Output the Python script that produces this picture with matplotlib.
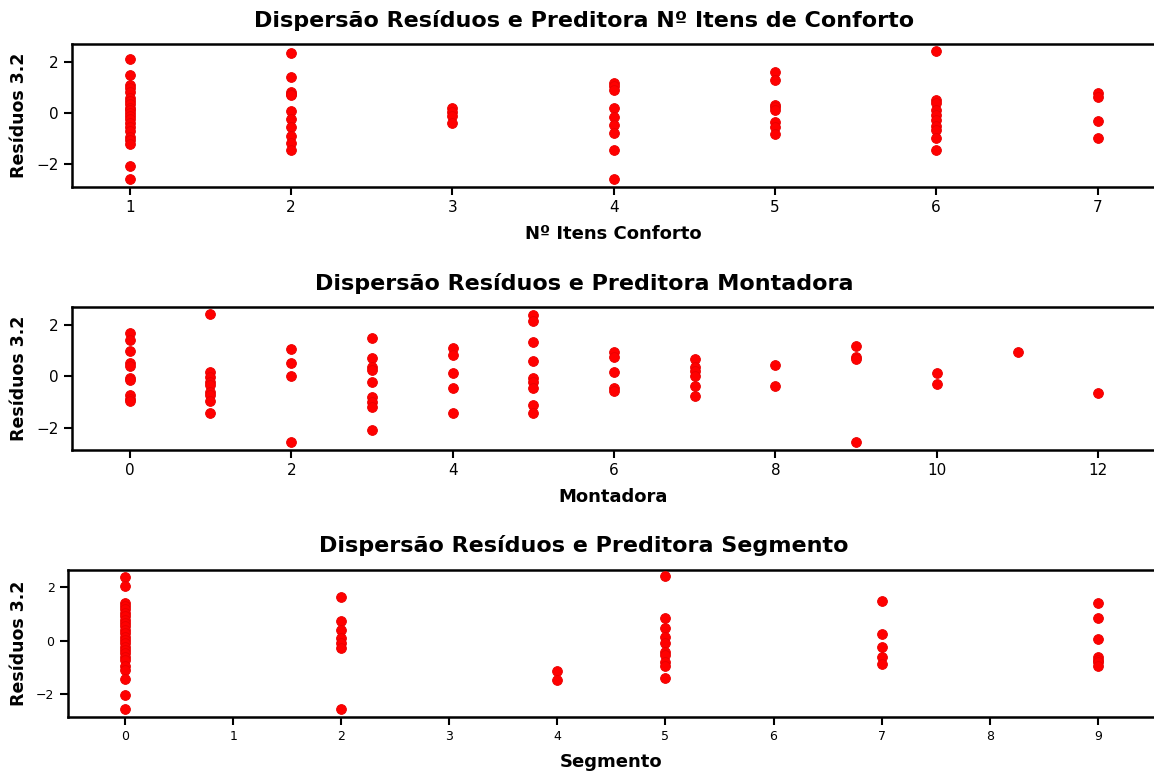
#!/usr/bin/env python3
"""Dispersao dos residuos contra as preditoras (3 paineis)."""
import matplotlib
matplotlib.use("Agg")
import matplotlib.pyplot as plt

# residuos lidos por nivel de cada preditora
conforto_niveis = [1, 2, 3, 4, 5, 6, 7]
conforto_res = [
    [2.10, 1.48, 1.09, 0.96, 0.83, 0.60, 0.45, 0.35, 0.20, 0.10, 0.0, -0.10,
     -0.25, -0.40, -0.55, -0.70, -0.95, -1.05, -1.20, -2.06, -2.55],
    [2.32, 1.38, 0.83, 0.75, 0.70, 0.08, -0.23, -0.56, -0.88, -1.18, -1.44],
    [0.18, 0.05, -0.12, -0.38],
    [1.16, 1.03, 0.90, 0.18, -0.14, -0.47, -0.79, -1.42, -2.55],
    [1.61, 1.30, 0.31, 0.25, 0.12, -0.34, -0.56, -0.80],
    [2.42, 0.51, 0.38, 0.12, -0.08, -0.27, -0.51, -0.66, -0.96, -1.44],
    [0.77, 0.64, -0.31, -0.96],
]

montadora_niveis = [0, 1, 2, 3, 4, 5, 6, 7, 8, 9, 10, 11, 12]
montadora_res = [
    [1.67, 1.41, 0.98, 0.50, 0.41, -0.07, -0.16, -0.75, -0.88, -0.98],
    [2.43, 0.14, -0.03, -0.22, -0.35, -0.61, -0.75, -0.98, -1.42],
    [1.06, 0.50, 0.0, -2.55],
    [1.48, 0.69, 0.37, 0.24, -0.25, -0.81, -1.01, -1.20, -2.09],
    [1.08, 0.82, 0.10, -0.46, -1.42],
    [2.39, 2.13, 1.31, 0.59, -0.09, -0.25, -0.48, -1.14, -1.42],
    [0.93, 0.76, 0.17, -0.46, -0.59],
    [0.67, 0.37, 0.20, 0.01, -0.38, -0.78],
    [0.43, -0.38],
    [1.15, 0.76, 0.67, -2.55],
    [0.10, -0.29],
    [0.92],
    [-0.64],
]

segmento_niveis = [0, 2, 4, 5, 7, 9]
segmento_res = [
    [2.38, 2.04, 1.43, 1.30, 1.18, 1.05, 0.92, 0.80, 0.67, 0.54, 0.42, 0.29,
     0.16, 0.04, -0.09, -0.22, -0.34, -0.47, -0.59, -0.72, -0.95, -1.10,
     -1.42, -2.03, -2.56],
    [1.65, 0.73, 0.39, 0.10, -0.09, -0.28, -2.56],
    [-1.14, -1.46],
    [2.42, 0.86, 0.48, 0.16, -0.09, -0.41, -0.53, -0.78, -0.95, -1.39],
    [1.49, 0.25, -0.22, -0.59, -0.85],
    [1.43, 0.86, 0.08, -0.59, -0.72, -0.78, -0.95],
]

paineis = [
    ("Dispersão Resíduos e Preditora Nº Itens de Conforto", "Nº Itens Conforto",
     conforto_niveis, conforto_res, [1, 2, 3, 4, 5, 6, 7], (0.64, 7.35),
     (-2.88, 2.68), [0.0621, 0.758, 0.9379, 0.185], 0.974, 11),
    ("Dispersão Resíduos e Preditora Montadora", "Montadora",
     montadora_niveis, montadora_res, [0, 2, 4, 6, 8, 10, 12], (-0.72, 12.69),
     (-2.87, 2.69), [0.0621, 0.418, 0.9379, 0.185], 0.633, 11),
    ("Dispersão Resíduos e Preditora Segmento", "Segmento",
     segmento_niveis, segmento_res, list(range(10)), (-0.53, 9.52),
     (-2.84, 2.66), [0.0587, 0.0728, 0.9413, 0.19], 0.294, 9),
]


def main():
    plt.rcParams["font.family"] = ["DejaVu Sans"]
    fig = plt.figure(figsize=(11.54, 7.73), dpi=100)

    for titulo, xlab, niveis, res, xticks, xlim, ylim, pos, ytit, fs in paineis:
        ax = fig.add_axes(pos)
        xs, ys = [], []
        for nivel, vals in zip(niveis, res):
            xs += [nivel] * len(vals)
            ys += vals
        ax.scatter(xs, ys, s=50, color="#ff0000", edgecolors="#e80000",
                   linewidths=0.6, zorder=3)
        ax.set_xlim(*xlim)
        ax.set_ylim(*ylim)
        ax.set_xticks(xticks)
        ax.set_yticks([-2, 0, 2])
        ax.tick_params(labelsize=fs, width=1.5, length=6, direction="out")
        ax.spines["right"].set_visible(False)
        for s in ("left", "bottom", "top"):
            ax.spines[s].set_linewidth(1.8)
        ax.set_xlabel(xlab, fontsize=13, fontweight="bold", labelpad=7)
        ax.set_ylabel("Resíduos 3.2", fontsize=12.5, fontweight="bold", labelpad=6)
        fig.text(0.506, ytit, titulo, ha="center", va="center",
                 fontsize=16, fontweight="bold")

    fig.savefig("out.png", dpi=100)


if __name__ == "__main__":
    main()
